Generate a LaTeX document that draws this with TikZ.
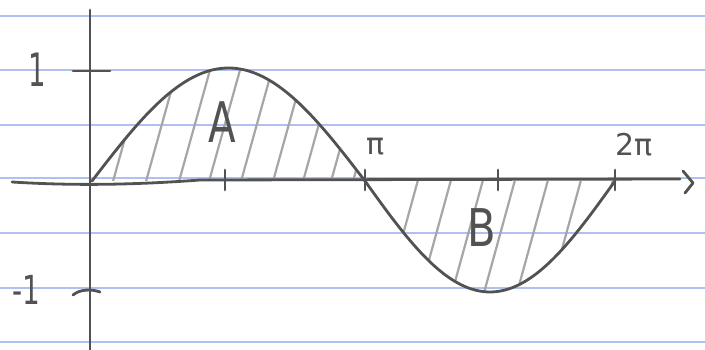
\documentclass[tikz,border=0pt]{standalone}
\usepackage{fontspec}
\setmainfont{DejaVu Sans}
\definecolor{ruleblue}{RGB}{176,192,240}
\begin{document}
\begin{tikzpicture}[x=1pt,y=-1pt,
  pencil/.style={draw=black!68,line width=2.8pt,line cap=round,line join=round},
  hatch/.style={draw=black!35,line width=2.2pt,line cap=round},
  ruled/.style={draw=ruleblue,line width=2pt},
  lbl/.style={text=black!68,inner sep=0pt}]
\useasboundingbox[fill=white] (0,0) rectangle (705,350);
% ruled paper lines
\foreach \yy in {16,70,125,178,233,288,342} \draw[ruled] (0,\yy) -- (705,\yy);
% hatching A
\begin{scope}
\clip plot[domain=92:365,samples=60,smooth] (\x,{181-113*sin((\x-92)/273*180)}) -- cycle;
\foreach \xx in {112,145,178,208,240,272,302,330,352} \draw[hatch] (\xx,185) -- ++(32,-115);
\end{scope}
% hatching B
\begin{scope}
\clip plot[domain=365:615,samples=60,smooth] (\x,{181+111*sin((\x-365)/250*180)}) -- cycle;
\foreach \xx in {385,418,450,482,515,548,580,605} \draw[hatch] (\xx,300) -- ++(33,-120);
\end{scope}
% axes
\draw[pencil] (90,10) -- (90,350);
\draw[pencil] (12,182) .. controls (60,185) and (120,186) .. (200,180) -- (680,179);
\coordinate (tipA) at (683,171);
\coordinate (tipB) at (693,183);
\coordinate (tipC) at (685,193);
\draw[pencil] (tipA) -- (tipB) -- (tipC);
% ticks
\draw[pencil] (73,71) -- (110,71);
\draw[pencil] (73,295) .. controls (80,289) and (92,289) .. (100,292);
\foreach \xx in {225,365,498,615} \draw[pencil] (\xx,170) -- (\xx,190);
% sine curve
\draw[pencil] plot[domain=92:365,samples=60,smooth] (\x,{181-113*sin((\x-92)/273*180)});
\draw[pencil] plot[domain=365:615,samples=60,smooth] (\x,{181+111*sin((\x-365)/250*180)});
% labels
\node[lbl,font=\fontsize{46}{46}\selectfont] (one) at (37,70) {\scalebox{0.6}[1]{1}};
\node[lbl,font=\fontsize{40}{40}\selectfont] (mone) at (26,290) {\scalebox{0.7}[1]{-1}};
\node[lbl,font=\fontsize{30}{30}\selectfont] (pi) at (376,147) {π};
\node[lbl,font=\fontsize{30}{30}\selectfont] (twopi) at (634,145) {2π};
\node[lbl,font=\fontsize{56}{56}\selectfont] (A) at (222,122) {\scalebox{0.72}[1]{A}};
\node[lbl,font=\fontsize{52}{52}\selectfont] (B) at (482,228) {\scalebox{0.8}[1]{B}};
\end{tikzpicture}
\end{document}
